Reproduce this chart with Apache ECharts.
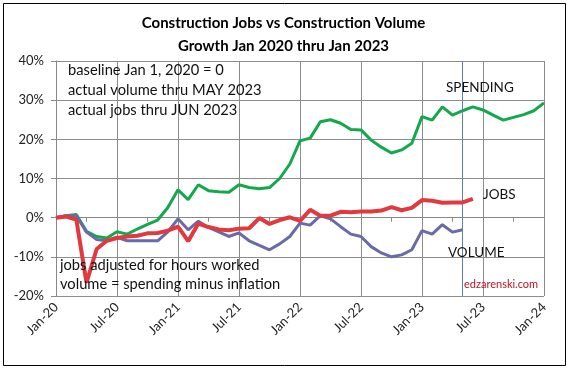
<!DOCTYPE html>
<html><head><meta charset="utf-8">
<script src="https://cdn.jsdelivr.net/npm/echarts@6/dist/echarts.min.js"></script>
<style>html,body{margin:0;padding:0;background:#fff}#c{width:567px;height:368px}</style>
</head><body><div id="c"></div>
<script>
var months = ['Jan-20','Feb-20','Mar-20','Apr-20','May-20','Jun-20','Jul-20','Aug-20','Sep-20','Oct-20','Nov-20','Dec-20',
'Jan-21','Feb-21','Mar-21','Apr-21','May-21','Jun-21','Jul-21','Aug-21','Sep-21','Oct-21','Nov-21','Dec-21',
'Jan-22','Feb-22','Mar-22','Apr-22','May-22','Jun-22','Jul-22','Aug-22','Sep-22','Oct-22','Nov-22','Dec-22',
'Jan-23','Feb-23','Mar-23','Apr-23','May-23','Jun-23','Jul-23','Aug-23','Sep-23','Oct-23','Nov-23','Dec-23','Jan-24'];
var spending = [0,0.5,0.8,-3.5,-4.8,-5.2,-3.6,-4.2,-2.9,-1.7,-0.6,2.6,
7.1,4.6,8.4,6.9,6.6,6.5,8.4,7.7,7.4,7.7,10.0,13.7,
19.6,20.3,24.5,25.0,24.1,22.5,22.4,19.8,18.0,16.5,17.3,19.0,
25.8,24.9,28.3,26.2,27.3,28.3,27.5,26.2,24.9,25.6,26.3,27.3,29.3];
var jobs = [0,0.3,-0.5,-16.6,-8.0,-5.9,-5.2,-4.8,-4.6,-4.0,-3.9,-3.3,
-2.3,-6.0,-1.5,-2.4,-3.0,-3.2,-2.8,-2.7,-0.1,-1.6,-0.6,0.1,
-0.8,2.0,0.5,0.5,1.5,1.4,1.6,1.6,1.8,2.7,1.9,2.5,
4.5,4.3,3.8,3.9,3.9,4.8];
var volume = [0,0.5,0.5,-3.7,-5.6,-5.9,-5.0,-5.9,-5.9,-5.9,-5.9,-3.6,
-0.3,-3.1,-0.9,-2.5,-3.6,-4.8,-3.9,-5.9,-7.1,-8.2,-6.7,-4.8,
-1.4,-1.9,0.5,-0.3,-2.3,-4.2,-4.8,-7.4,-9.0,-10.0,-9.5,-8.2,
-3.3,-4.2,-1.8,-3.7,-3.1];
var actualThru = 'May-23';
var FONT = 'Lato';
var chart = echarts.init(document.getElementById('c'));
function txt(x, y, s, opt) {
  opt = opt || {};
  return {type:'text', left:x, top:y, z:50, style:{text:s, fill:opt.color||'#111', font:(opt.size||14.7)+'px '+FONT}};
}
chart.setOption({
  animation:false,
  title:{text:'Construction Jobs vs Construction Volume\nGrowth Jan 2020 thru Jan 2023', left:'center', top:7,
    textStyle:{fontFamily:FONT, fontWeight:'bold', fontSize:15, lineHeight:23, color:'#000'}},
  grid:{left:56, right:23, top:61, bottom:72},
  xAxis:{type:'category', data:months, boundaryGap:false,
    axisLine:{lineStyle:{color:'#888', width:1}},
    axisTick:{interval:2, length:4, lineStyle:{color:'#888'}},
    axisLabel:{interval:5, rotate:45, fontFamily:FONT, fontSize:13, color:'#222', margin:9},
    splitLine:{show:true, interval:5, lineStyle:{color:'#8c8c8c', width:1}}},
  yAxis:{type:'value', min:-20, max:40, interval:10,
    axisLine:{show:true, lineStyle:{color:'#888'}},
    axisTick:{show:true, length:5, lineStyle:{color:'#888'}},
    axisLabel:{formatter:'{value}%', fontFamily:FONT, fontSize:13, color:'#222', margin:12},
    splitLine:{lineStyle:{color:'#8c8c8c', width:1}}},
  series:[
    {name:'SPENDING', type:'line', data:spending, showSymbol:false, lineStyle:{color:'#14a84c', width:3}, z:3},
    {name:'VOLUME', type:'line', data:volume, showSymbol:false, lineStyle:{color:'#6a6aa8', width:3}, z:4,
      markLine:{silent:true, symbol:'none', label:{show:false}, lineStyle:{color:'#5b7fc0', width:1, type:'solid'},
        data:[{xAxis:actualThru}]}},
    {name:'JOBS', type:'line', data:jobs, showSymbol:false, lineStyle:{color:'#e0393e', width:4}, z:5}
  ],
  graphic:[
    {type:'rect', left:1, top:1, shape:{width:562, height:362}, style:{fill:'none', stroke:'#000', lineWidth:1}, z:0},
    txt(68, 63, 'baseline Jan 1, 2020 = 0'),
    txt(68, 83, 'actual volume thru MAY 2023'),
    txt(68, 103, 'actual jobs thru JUN 2023'),
    txt(446, 81, 'SPENDING', {size:13.5}),
    txt(483, 188, 'JOBS', {size:13.5}),
    txt(448, 246, 'VOLUME', {size:13.5}),
    txt(60, 258, 'jobs adjusted for hours worked'),
    txt(60, 277, 'volume = spending minus inflation'),
    txt(464, 279, 'edzarenski.com', {color:'#c0121e', size:11})
  ]
});
</script></body></html>
